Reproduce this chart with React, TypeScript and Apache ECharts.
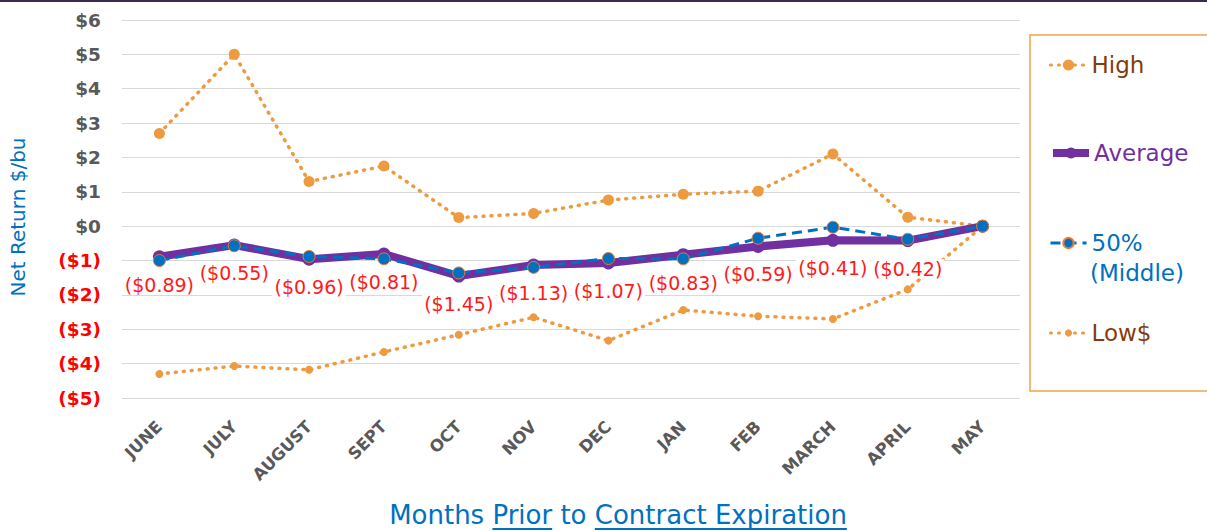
import React, { useEffect, useRef } from "react";
import * as echarts from "echarts";

const months = ["JUNE", "JULY", "AUGUST", "SEPT", "OCT", "NOV", "DEC", "JAN", "FEB", "MARCH", "APRIL", "MAY"];
const high = [2.7, 5.0, 1.3, 1.75, 0.25, 0.37, 0.76, 0.93, 1.02, 2.1, 0.26, 0];
const average = [-0.89, -0.55, -0.96, -0.81, -1.45, -1.13, -1.07, -0.83, -0.59, -0.41, -0.42, 0];
const middle = [-1.0, -0.57, -0.88, -0.95, -1.36, -1.2, -0.94, -0.95, -0.35, -0.03, -0.38, 0];
const low = [-4.3, -4.07, -4.18, -3.66, -3.16, -2.65, -3.33, -2.44, -2.62, -2.7, -1.84, 0];

const seriesNames = ["High", "Average", "50% (Middle)", "Low$"];
const yAxisName = "Net Return $/bu";
const titleParts = [
  { text: "Months ", underline: false },
  { text: "Prior", underline: true },
  { text: " to ", underline: false },
  { text: "Contract Expiration", underline: true },
];

const ORANGE = "#EE9A3E";
const PURPLE = "#7030A0";
const BLUE = "#0070C0";
const BROWN = "#843C0C";
const FONT = "DejaVu Sans";

function measure(text: string, font: string): number {
  const c = document.createElement("canvas").getContext("2d");
  if (!c) return text.length * 12;
  c.font = font;
  return c.measureText(text).width;
}

export default function App() {
  const ref = useRef<HTMLDivElement>(null);
  useEffect(() => {
    if (!ref.current) return;
    const chart = echarts.init(ref.current, null, { renderer: "svg" });

    const titleSize = 26;
    const titleFont = `${titleSize}px "${FONT}"`;
    const widths = titleParts.map((p) => measure(p.text, titleFont));
    const total = widths.reduce((a, b) => a + b, 0);
    let tx = 618 - total / 2;
    const titleY = 515;
    const titleEls: any[] = [];
    titleParts.forEach((p, i) => {
      titleEls.push({
        type: "text",
        x: tx,
        y: titleY,
        style: { text: p.text, font: titleFont, fill: BLUE, align: "left", verticalAlign: "middle" },
      });
      if (p.underline) {
        titleEls.push({
          type: "line",
          shape: { x1: tx, y1: titleY + 14, x2: tx + widths[i], y2: titleY + 14 },
          style: { stroke: BLUE, lineWidth: 1.8 },
        });
      }
      tx += widths[i];
    });

    const dotted = [1, 7];
    const legendBase = {
      orient: "vertical",
      left: 1049,
      padding: 0,
      itemWidth: 36,
      textStyle: { fontFamily: FONT, fontSize: 23, lineHeight: 28 },
    };

    chart.setOption({
      animation: false,
      backgroundColor: "#ffffff",
      grid: { left: 117, right: 187, top: 20, bottom: 133 },
      xAxis: {
        type: "category",
        data: months,
        boundaryGap: true,
        axisLine: { show: false },
        axisTick: { show: false },
        axisLabel: {
          rotate: 45,
          margin: 26,
          interval: 0,
          color: "#595959",
          fontFamily: FONT,
          fontWeight: "bold",
          fontSize: 16.5,
        },
      },
      yAxis: {
        type: "value",
        min: -5,
        max: 6,
        interval: 1,
        name: yAxisName,
        nameLocation: "middle",
        nameGap: 94,
        nameTextStyle: { color: BLUE, fontFamily: FONT, fontSize: 20, padding: [0, 16, 0, 0] },
        axisLine: { show: false },
        axisTick: { show: false },
        splitLine: { lineStyle: { color: "#D9D9D9", width: 1.2 } },
        axisLabel: {
          margin: 21,
          formatter: (v: number) => (v < 0 ? `{n|($${Math.abs(v)})}` : `{p|$${v}}`),
          rich: {
            n: { color: "#FF0000", fontFamily: FONT, fontWeight: "bold", fontSize: 18.5 },
            p: { color: "#595959", fontFamily: FONT, fontWeight: "bold", fontSize: 18.5 },
          },
        },
      },
      legend: [
        { ...legendBase, top: 51, data: [seriesNames[0]], itemHeight: 14, textStyle: { ...legendBase.textStyle, color: BROWN }, lineStyle: { width: 3 } },
        { ...legendBase, top: 139, data: [seriesNames[1]], itemHeight: 14, textStyle: { ...legendBase.textStyle, color: PURPLE }, lineStyle: { width: 8 } },
        {
          ...legendBase,
          top: 229,
          data: [seriesNames[2]],
          itemHeight: 13,
          formatter: () => "50%",
          textStyle: { ...legendBase.textStyle, color: BLUE },
          lineStyle: { width: 3 },
        },
        { ...legendBase, top: 319, data: [seriesNames[3]], itemHeight: 9, textStyle: { ...legendBase.textStyle, color: BROWN }, lineStyle: { width: 3 } },
      ],
      graphic: [
        { type: "rect", left: 0, top: 0, shape: { x: 0, y: 0, width: 1207, height: 2 }, style: { fill: "#3A2850" } },
        {
          type: "rect",
          shape: { x: 1030, y: 35, width: 200, height: 356 },
          style: { fill: "none", stroke: "#F2A347", lineWidth: 1.5 },
        },
        {
          type: "text",
          x: 1090,
          y: 273,
          style: { text: "(Middle)", font: `23px "${FONT}"`, fill: BLUE, align: "left", verticalAlign: "middle" },
        },
        ...titleEls,
      ],
      series: [
        {
          name: seriesNames[0],
          type: "line",
          data: high,
          symbol: "circle",
          symbolSize: 11,
          itemStyle: { color: ORANGE },
          lineStyle: { color: ORANGE, width: 3.5, type: dotted, cap: "round" },
          z: 2,
        },
        {
          name: seriesNames[1],
          type: "line",
          data: average,
          symbol: "circle",
          symbolSize: 13,
          itemStyle: { color: PURPLE },
          lineStyle: { color: PURPLE, width: 8 },
          label: {
            show: true,
            position: "bottom",
            distance: 12,
            color: "#FF1A1A",
            fontFamily: FONT,
            fontSize: 19,
            backgroundColor: "#ffffff",
            padding: [0, 2],
            formatter: (p: any) => (p.value === 0 ? "" : `($${Math.abs(p.value).toFixed(2)})`),
          },
          z: 3,
        },
        {
          name: seriesNames[2],
          type: "line",
          data: middle,
          symbol: "circle",
          symbolSize: 12,
          itemStyle: { color: BLUE, borderColor: "#ED7D31", borderWidth: 1 },
          lineStyle: { color: BLUE, width: 3, type: [10, 6] },
          z: 4,
        },
        {
          name: seriesNames[3],
          type: "line",
          data: low,
          symbol: "circle",
          symbolSize: 8,
          itemStyle: { color: ORANGE },
          lineStyle: { color: ORANGE, width: 3.5, type: dotted, cap: "round" },
          z: 2,
        },
      ],
    });
    return () => chart.dispose();
  }, []);
  return <div ref={ref} style={{ position: "fixed", left: 0, top: 0, width: 1207, height: 531 }} />;
}
